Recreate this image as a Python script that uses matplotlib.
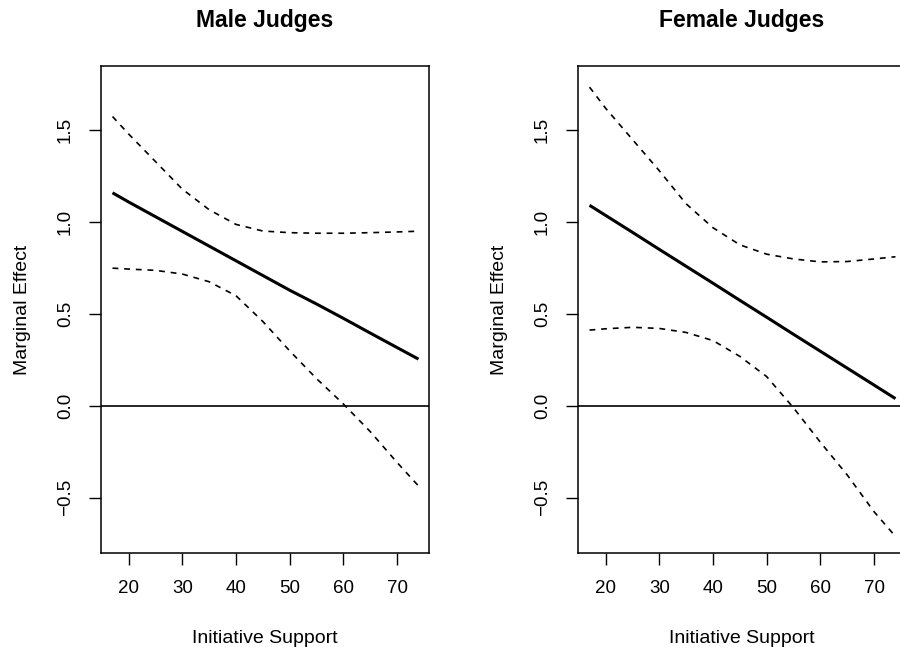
import numpy as np
import matplotlib.pyplot as plt

plt.rcParams['font.family'] = ['Liberation Sans', 'DejaVu Sans']

support = [17, 20, 25, 30, 35, 40, 45, 50, 55, 60, 65, 70, 74]

male_effect = [1.16, 1.11, 1.03, 0.95, 0.87, 0.79, 0.71, 0.63, 0.555, 0.477, 0.397, 0.318, 0.255]
male_upper = [1.575, 1.48, 1.33, 1.18, 1.068, 0.988, 0.952, 0.943, 0.94, 0.94, 0.943, 0.947, 0.951]
male_lower = [0.75, 0.745, 0.738, 0.718, 0.676, 0.60, 0.46, 0.30, 0.149, 0.011, -0.139, -0.307, -0.435]

female_effect = [1.092, 1.037, 0.945, 0.852, 0.76, 0.668, 0.575, 0.483, 0.39, 0.298, 0.206, 0.114, 0.04]
female_upper = [1.735, 1.62, 1.45, 1.28, 1.10, 0.97, 0.877, 0.826, 0.80, 0.784, 0.786, 0.80, 0.812]
female_lower = [0.413, 0.42, 0.428, 0.422, 0.40, 0.356, 0.27, 0.16, -0.01, -0.197, -0.375, -0.575, -0.71]

xticks = [20, 30, 40, 50, 60, 70]
yticks = [-0.5, 0.0, 0.5, 1.0, 1.5]

fig = plt.figure(figsize=(9, 6.47), dpi=100)

def panel(pos, title, effect, upper, lower):
    ax = fig.add_axes(pos)
    ax.plot(support, effect, color='black', lw=2.2, solid_capstyle='butt')
    ax.plot(support, upper, color='black', lw=1.2, linestyle=(0, (3.5, 3.5)))
    ax.plot(support, lower, color='black', lw=1.2, linestyle=(0, (3.5, 3.5)))
    ax.axhline(0, color='black', lw=1.2)
    ax.set_xlim(14.85, 75.95)
    ax.set_ylim(-0.8, 1.85)
    ax.set_xticks(xticks)
    ax.set_yticks(yticks)
    ax.set_yticklabels(['\u22120.5', '0.0', '0.5', '1.0', '1.5'], rotation=90, va='center')
    ax.tick_params(direction='out', length=8.5, width=1.0, labelsize=13.5, pad=11, color='black')
    for s in ax.spines.values():
        s.set_linewidth(1.1)
    ax.set_title(title, fontsize=16.5, fontweight='bold', pad=28)
    ax.set_xlabel('Initiative Support', fontsize=14, labelpad=24)
    ax.set_ylabel('Marginal Effect', fontsize=14, labelpad=19)
    return ax

panel([0.1122, 0.1453, 0.3644, 0.7527], 'Male Judges', male_effect, male_upper, male_lower)
panel([0.6422, 0.1453, 0.3644, 0.7527], 'Female Judges', female_effect, female_upper, female_lower)

plt.savefig('out.png', dpi=100)
